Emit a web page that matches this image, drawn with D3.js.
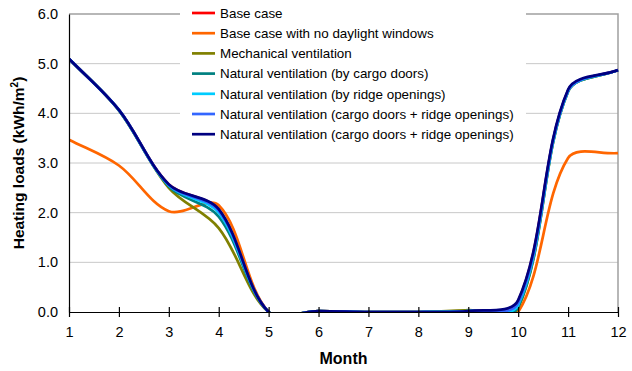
<!DOCTYPE html>
<html>
<head>
<meta charset="utf-8">
<script src="https://cdn.jsdelivr.net/npm/d3@7"></script>
<style>
  html, body { margin: 0; padding: 0; background: #fff; }
  svg { display: block; font-family: Arial, "Liberation Sans", sans-serif; }
</style>
</head>
<body>
<svg id="chart" width="632" height="371"></svg>
<script>
// Monthly heating loads (kWh/m²) for each ventilation scenario
const months = [1, 2, 3, 4, 5, 6, 7, 8, 9, 10, 11, 12];
const yTickValues = [0, 1, 2, 3, 4, 5, 6];

const seriesNames = [
  "Base case",
  "Base case with no daylight windows",
  "Mechanical ventilation",
  "Natural ventilation (by cargo doors)",
  "Natural ventilation (by ridge openings)",
  "Natural ventilation (cargo doors + ridge openings)",
  "Natural ventilation (cargo doors + ridge openings)"
];
const seriesColors = ["#ff0000", "#ff6600", "#808000", "#008080", "#00ccff", "#3366ff", "#000080"];

const baseCase        = [5.10, 4.07, 2.57, 2.06, 0.00, 0.02, 0.00, 0.00, 0.02, 0.22, 4.46, 4.87];
const noDaylight      = [3.47, 2.95, 2.03, 2.15, 0.00, 0.02, 0.00, 0.00, 0.02, 0.00, 3.10, 3.20];
const mechanical      = [5.10, 4.06, 2.50, 1.69, 0.00, 0.02, 0.00, 0.00, 0.04, 0.08, 4.44, 4.87];
const cargoDoors      = [5.10, 4.06, 2.53, 1.92, 0.00, 0.02, 0.00, 0.00, 0.02, 0.10, 4.44, 4.87];
const ridgeOpenings   = [5.10, 4.07, 2.55, 2.00, 0.00, 0.02, 0.00, 0.00, 0.02, 0.14, 4.45, 4.87];
const cargoRidgeA     = [5.10, 4.07, 2.56, 2.04, 0.00, 0.02, 0.00, 0.00, 0.02, 0.18, 4.46, 4.87];
const cargoRidgeB     = [5.10, 4.07, 2.57, 2.07, 0.00, 0.02, 0.00, 0.00, 0.02, 0.24, 4.48, 4.87];

const seriesValues = [baseCase, noDaylight, mechanical, cargoDoors, ridgeOpenings, cargoRidgeA, cargoRidgeB];

// Spreadsheet-style smoothed line: cubic Bézier segments whose control
// handles follow the neighbour chord, scaled by adjacent segment lengths.
function SmoothCurve(context) { this._context = context; }
SmoothCurve.prototype = {
  areaStart() { this._line = 0; },
  areaEnd() { this._line = NaN; },
  lineStart() { this._pts = []; },
  point(px, py) { this._pts.push([+px, +py]); },
  lineEnd() {
    const p = this._pts, n = p.length, ctx = this._context, t = 1 / 3;
    if (!n) return;
    ctx.moveTo(p[0][0], p[0][1]);
    const dist = (a, b) => Math.hypot(b[0] - a[0], b[1] - a[1]);
    for (let i = 0; i < n - 1; i++) {
      const p0 = p[i - 1] || p[i], p1 = p[i], p2 = p[i + 1], p3 = p[i + 2] || p[i + 1];
      const d01 = dist(p0, p1), d12 = dist(p1, p2), d23 = dist(p2, p3);
      const f1 = (d01 + d12) ? t * d12 / (d01 + d12) : 0;
      const f2 = (d12 + d23) ? t * d12 / (d12 + d23) : 0;
      const c1 = [p1[0] + (p2[0] - p0[0]) * f1, p1[1] + (p2[1] - p0[1]) * f1];
      const c2 = [p2[0] - (p3[0] - p1[0]) * f2, p2[1] - (p3[1] - p1[1]) * f2];
      ctx.bezierCurveTo(c1[0], c1[1], c2[0], c2[1], p2[0], p2[1]);
    }
  }
};
const smoothCurve = context => new SmoothCurve(context);

const svg = d3.select("#chart");
const plot = { left: 69, right: 618, top: 14, bottom: 312 };

const x = d3.scaleLinear().domain([1, 12]).range([plot.left, plot.right]);
const y = d3.scaleLinear().domain([0, 6]).range([plot.bottom, plot.top]);

// Clip series to the plot area
svg.append("defs").append("clipPath").attr("id", "plot-clip")
  .append("rect")
  .attr("x", plot.left).attr("y", plot.top - 2)
  .attr("width", plot.right - plot.left + 2).attr("height", plot.bottom - plot.top + 2);

// Horizontal gridlines
svg.append("g")
  .selectAll("line")
  .data(yTickValues.filter(v => v > 0 && v < 6))
  .join("line")
  .attr("x1", plot.left).attr("x2", plot.right)
  .attr("y1", d => y(d)).attr("y2", d => y(d))
  .attr("stroke", "#c8c8c8").attr("stroke-width", 1);

// Plot frame: top and right edges in gray
svg.append("path")
  .attr("d", `M${plot.left},${y(6)}H${plot.right}V${plot.bottom}`)
  .attr("fill", "none").attr("stroke", "#a0a0a0").attr("stroke-width", 1.5);

// Smoothed series lines
const line = d3.line()
  .x((d, i) => x(months[i]))
  .y(d => y(d))
  .curve(smoothCurve);

svg.append("g")
  .attr("clip-path", "url(#plot-clip)")
  .selectAll("path")
  .data(seriesValues)
  .join("path")
  .attr("d", d => line(d))
  .attr("fill", "none")
  .attr("stroke", (d, i) => seriesColors[i])
  .attr("stroke-width", 2.7)
  .attr("stroke-linejoin", "round");

// Legend box
const legend = svg.append("g");
legend.append("rect")
  .attr("x", 180).attr("y", 0).attr("width", 346).attr("height", 146)
  .attr("fill", "#fff");
const rowH = 20.2;
const rows = legend.selectAll("g.row")
  .data(seriesNames)
  .join("g")
  .attr("class", "row")
  .attr("transform", (d, i) => `translate(0,${13 + i * rowH})`);
rows.append("line")
  .attr("x1", 192).attr("x2", 215).attr("y1", 0).attr("y2", 0)
  .attr("stroke", (d, i) => seriesColors[i]).attr("stroke-width", 2.7);
rows.append("text")
  .attr("x", 220).attr("y", 0).attr("dy", "0.35em")
  .attr("font-size", 13.4).attr("fill", "#000")
  .text(d => d);

// Y axis
const yAxis = svg.append("g")
  .attr("transform", `translate(${plot.left},0)`)
  .call(d3.axisLeft(y).tickValues(yTickValues).tickFormat(d3.format(".1f")).tickSize(0).tickPadding(11));
yAxis.select(".domain").attr("stroke", "#000").attr("stroke-width", 1.2);
yAxis.selectAll("text").attr("font-size", 14.5).attr("fill", "#000")
  .attr("font-family", "Arial, 'Liberation Sans', sans-serif");

// X axis with crossing tick marks
const xAxis = svg.append("g")
  .attr("transform", `translate(0,${plot.bottom})`)
  .call(d3.axisBottom(x).tickValues(months).tickFormat(d3.format("d")).tickSizeInner(5).tickSizeOuter(0).tickPadding(10));
xAxis.select(".domain").attr("stroke", "#000").attr("stroke-width", 1.2);
xAxis.selectAll(".tick line").attr("y1", -5).attr("y2", 5).attr("stroke", "#000").attr("stroke-width", 1.2);
xAxis.selectAll("text").attr("font-size", 14.5).attr("fill", "#000")
  .attr("font-family", "Arial, 'Liberation Sans', sans-serif");

// Axis titles
svg.append("text")
  .attr("x", (plot.left + plot.right) / 2).attr("y", 364)
  .attr("text-anchor", "middle")
  .attr("font-size", 16).attr("font-weight", "bold")
  .text("Month");

const yTitle = svg.append("text")
  .attr("transform", `translate(24,${(plot.top + plot.bottom) / 2}) rotate(-90)`)
  .attr("text-anchor", "middle")
  .attr("font-size", 15.5).attr("font-weight", "bold");
yTitle.append("tspan").text("Heating loads (kWh/m");
yTitle.append("tspan").attr("font-size", 10).attr("dy", -6).text("2");
yTitle.append("tspan").attr("dy", 6).text(")");
</script>
</body>
</html>
